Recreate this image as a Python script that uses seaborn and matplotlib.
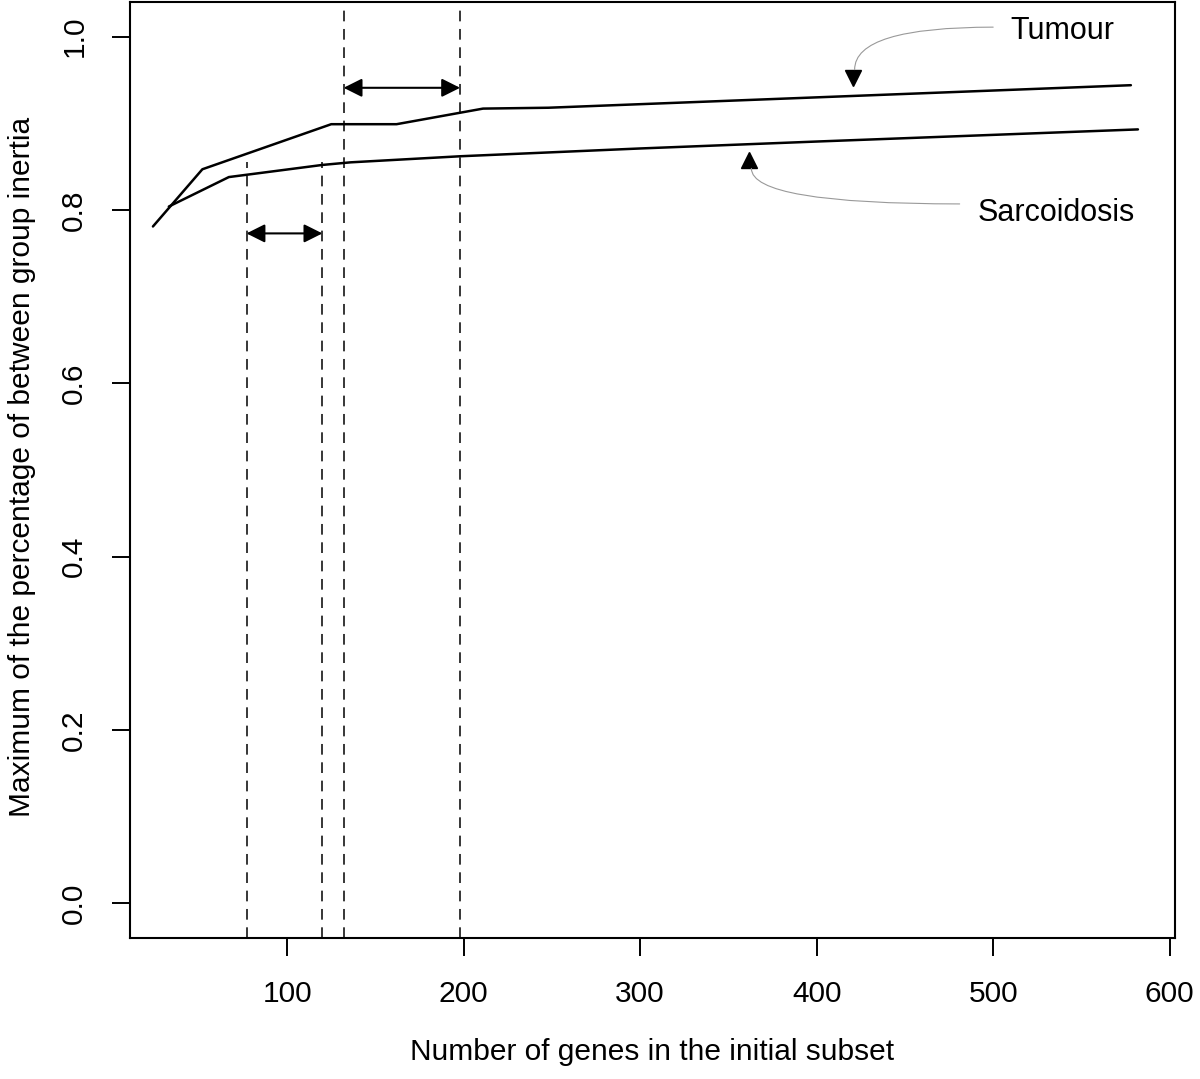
import matplotlib
matplotlib.use("Agg")
import matplotlib.pyplot as plt
import seaborn as sns
import pandas as pd

# curves
tumour_x = [24, 52, 125, 162, 211, 248, 578]
tumour_y = [0.781, 0.847, 0.899, 0.899, 0.917, 0.918, 0.944]
sarc_x = [33, 67, 120, 136, 198, 300, 400, 582]
sarc_y = [0.804, 0.838, 0.852, 0.855, 0.862, 0.871, 0.879, 0.893]

# dashed cut-offs and the ranges between them
tumour_cuts = [132, 198]
tumour_arrow_y = 0.941
sarc_cuts = [77, 120]
sarc_cut_top = 0.855
sarc_arrow_y = 0.773

xticks = [100, 200, 300, 400, 500, 600]
yticks = [0.0, 0.2, 0.4, 0.6, 0.8, 1.0]

df = pd.concat([
    pd.DataFrame({'genes': tumour_x, 'inertia': tumour_y, 'group': 'Tumour'}),
    pd.DataFrame({'genes': sarc_x, 'inertia': sarc_y, 'group': 'Sarcoidosis'}),
])

sns.set_style('ticks')
plt.rcParams['font.family'] = ['Liberation Sans', 'DejaVu Sans']
plt.rcParams['text.color'] = 'black'
plt.rcParams['axes.labelcolor'] = 'black'
fs = 21.5

fig = plt.figure(figsize=(12, 10.79), dpi=100)
ax = fig.add_axes([130 / 1200, 141 / 1079, 1045 / 1200, 936 / 1079])

sns.lineplot(data=df, x='genes', y='inertia', hue='group', palette=['black', 'black'],
             linewidth=1.8, legend=False, ax=ax, estimator=None, sort=False)

ax.set_xlim(11, 603)
ax.set_ylim(-0.04, 1.04)

# dashed vertical lines
for c in tumour_cuts:
    ax.axvline(c, color='black', lw=1.1, dashes=(7, 5))
ax.vlines(sarc_cuts, -0.04, sarc_cut_top, color='black', lw=1.1, linestyles=(0, (7, 5)))

# double arrows between cut-offs
arrow = dict(arrowstyle='<|-|>', color='black', lw=1.5, mutation_scale=28, shrinkA=0, shrinkB=0)
ax.annotate('', xy=(tumour_cuts[1], tumour_arrow_y), xytext=(tumour_cuts[0], tumour_arrow_y), arrowprops=arrow)
ax.annotate('', xy=(sarc_cuts[1], sarc_arrow_y), xytext=(sarc_cuts[0], sarc_arrow_y), arrowprops=arrow)

# labels with curved grey pointers
ax.text(539, 1.006, 'Tumour', ha='center', va='center', fontsize=fs + 0.5, color='black')
ax.annotate('', xy=(421.5, 0.962), xytext=(500, 1.011),
            arrowprops=dict(arrowstyle='-', color='#999999', lw=0.8,
                            connectionstyle='angle3,angleA=0,angleB=90', shrinkA=0, shrinkB=0))
ax.plot([420.5], [0.952], marker='v', color='black', markersize=11)

ax.text(536, 0.797, 'Sarcoidosis', ha='center', va='center', fontsize=fs + 0.5, color='black')
ax.annotate('', xy=(363, 0.848), xytext=(481, 0.807),
            arrowprops=dict(arrowstyle='-', color='#999999', lw=0.8,
                            connectionstyle='angle3,angleA=0,angleB=90', shrinkA=0, shrinkB=0))
ax.plot([361.5], [0.858], marker='^', color='black', markersize=11)

ax.set_xticks(xticks)
ax.set_yticks(yticks)
ax.set_xticklabels([str(t) for t in xticks])
ax.set_yticklabels(['%.1f' % t for t in yticks], rotation=90, va='center')
ax.tick_params(axis='both', length=13, width=1.4, pad=17, labelsize=fs, colors='black')

for s in ax.spines.values():
    s.set_linewidth(1.5)
    s.set_color('black')

ax.set_xlabel('Number of genes in the initial subset', fontsize=fs, color='black')
ax.set_ylabel('Maximum of the percentage of between group inertia', fontsize=fs, color='black')
ax.xaxis.set_label_coords(0.4995, -0.107)
ax.yaxis.set_label_coords(-0.090, 0.503)

fig.savefig('out.png', dpi=100)
